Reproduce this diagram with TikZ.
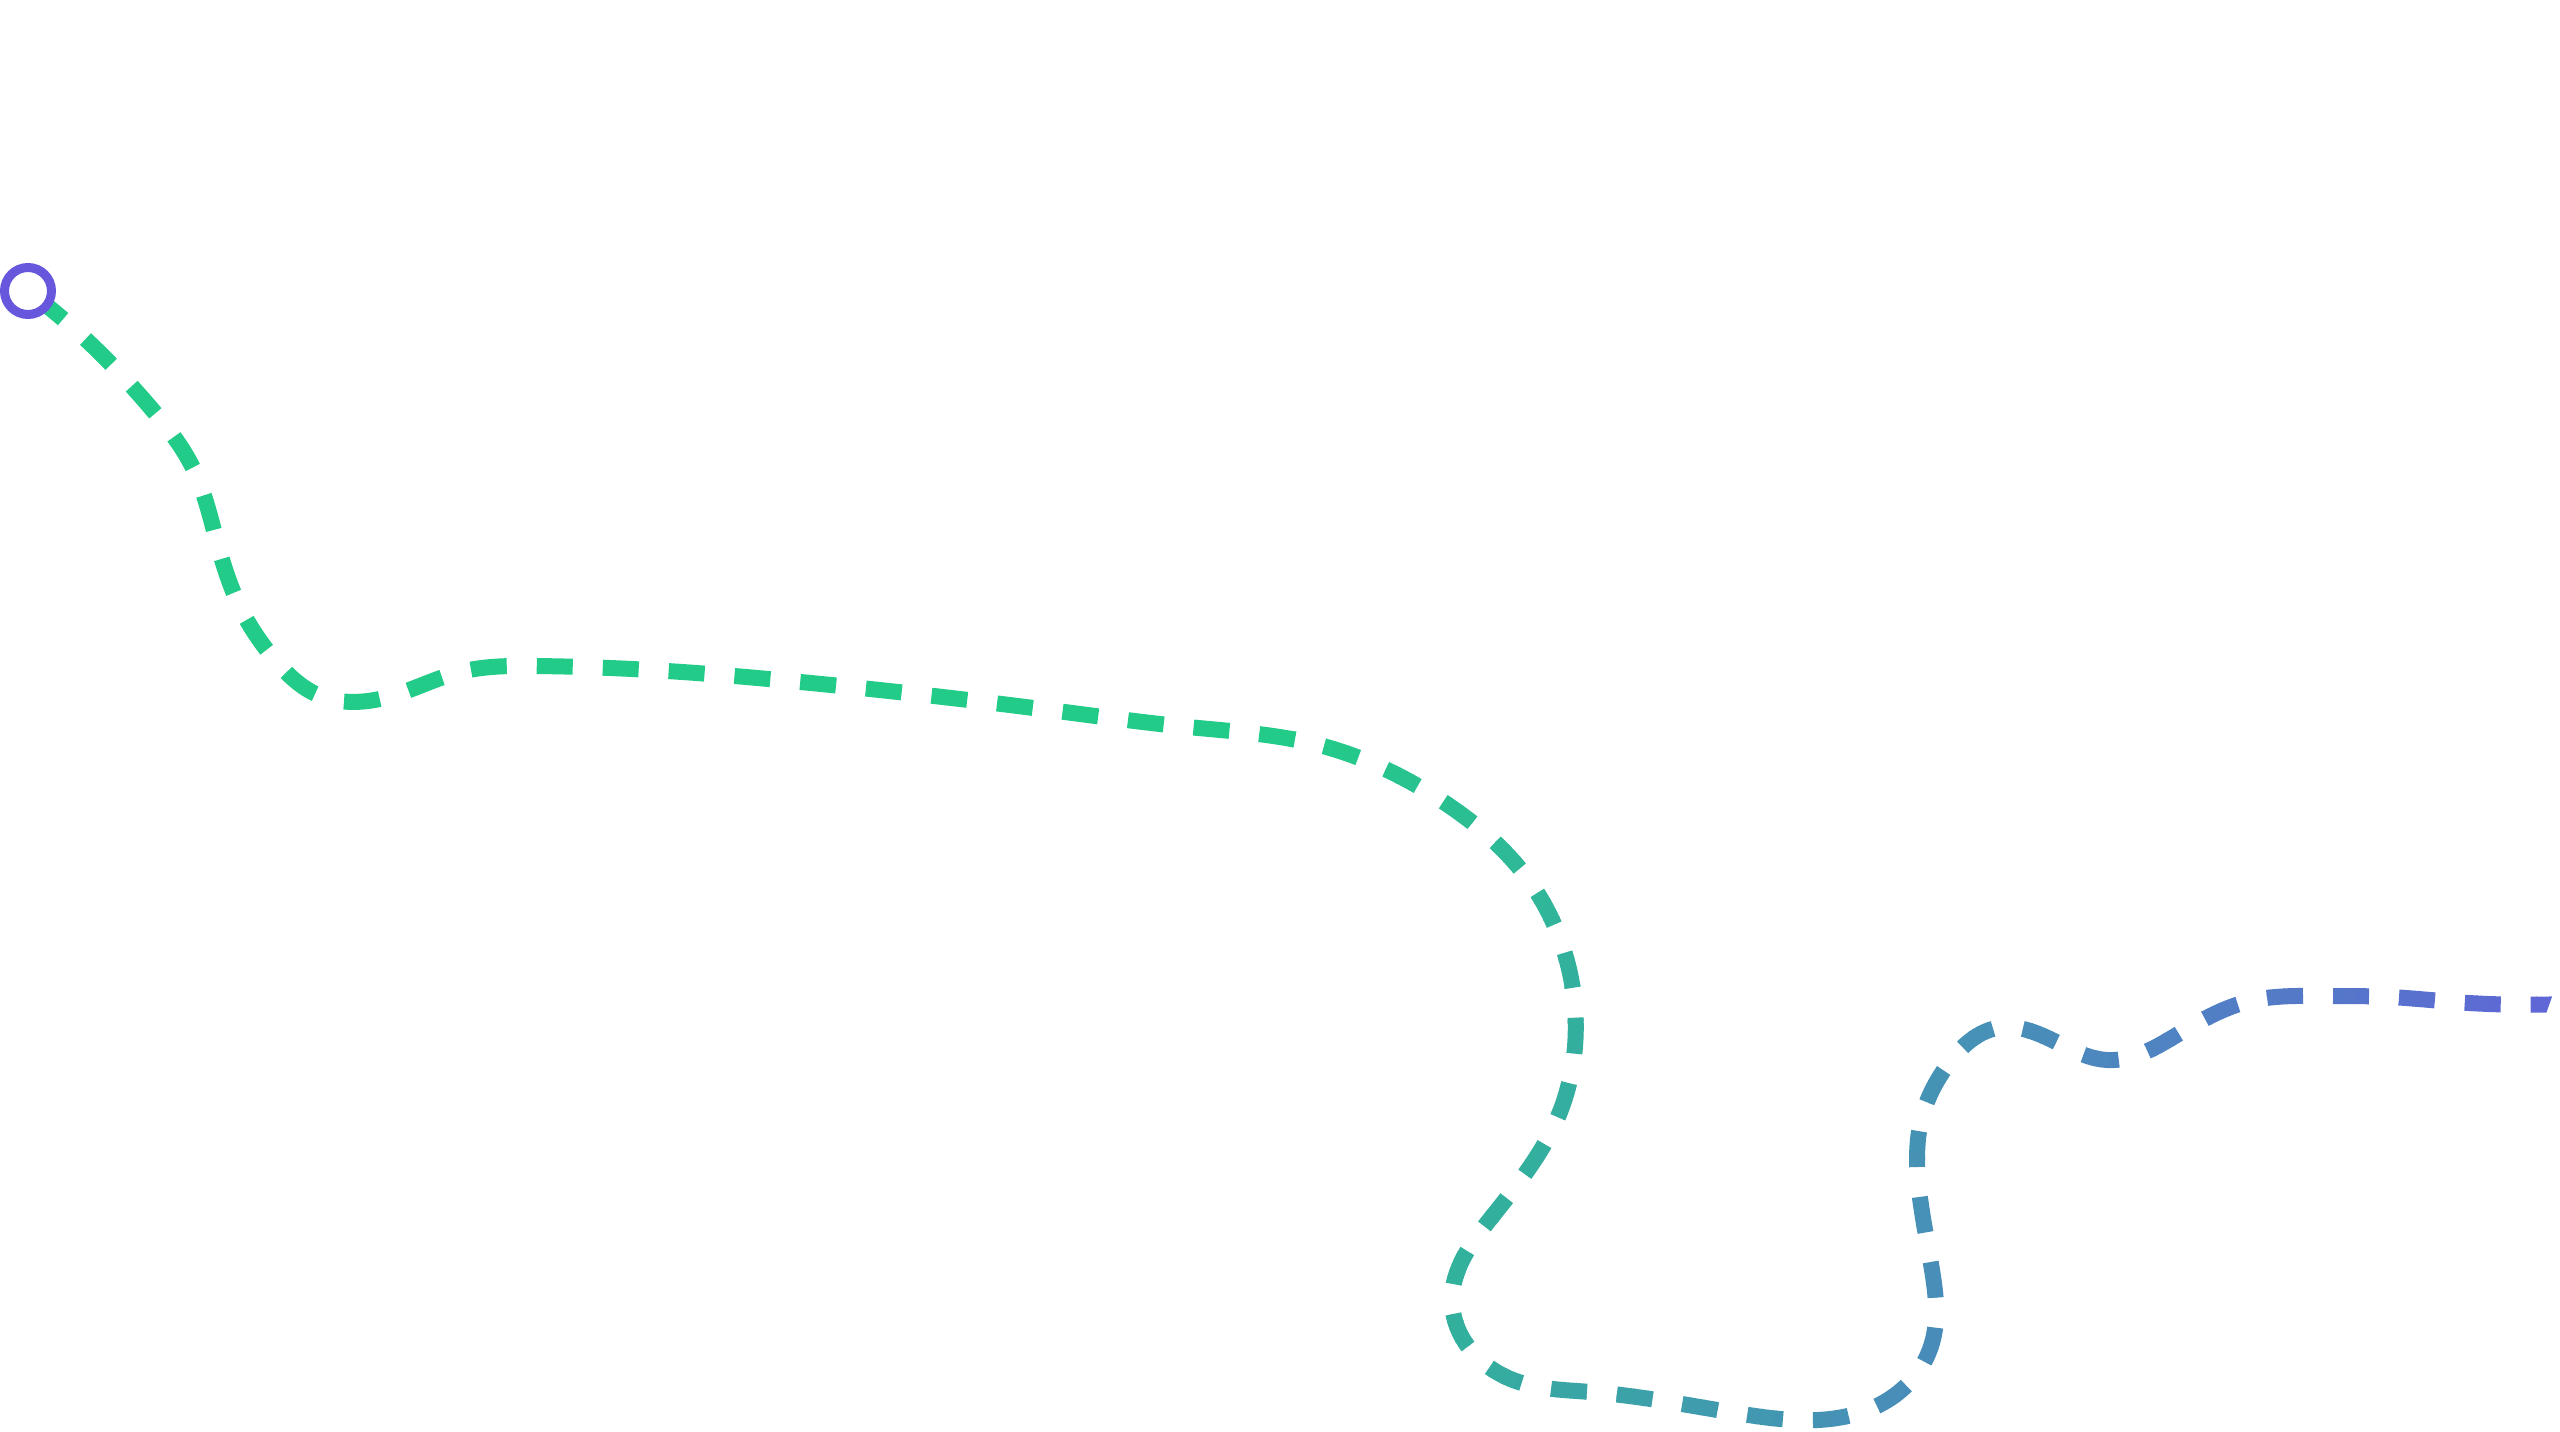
\documentclass[tikz,border=0pt]{standalone}
\usepackage{xcolor}
\usepackage{tikz}
\usetikzlibrary{
  hobby}

\definecolor{trailgreen}{HTML}{22CC88}
\definecolor{trailblue}{HTML}{6066D7}
\definecolor{ringviolet}{HTML}{6657DD}

\newcommand\trailpath{
  (0.28,11.40) .. (1.00,10.78) .. (1.50,10.24) .. (1.93,9.63) .. (2.17,8.89)
  .. (2.43,8.18) .. (2.75,7.71) .. (3.18,7.36) .. (3.88,7.34) .. (4.60,7.59)
  .. (5.35,7.65) .. (6.67,7.60) .. (7.90,7.50) .. (10.57,7.20) .. (11.88,7.04)
  .. (13.19,6.86) .. (14.39,6.32) .. (15.30,5.49) .. (15.73,4.41) .. (15.58,3.14)
  .. (14.91,2.13) .. (14.52,1.31) .. (15.13,0.51) .. (15.91,0.39) .. (17.42,0.17)
  .. (18.18,0.11) .. (18.91,0.33) .. (19.32,0.88) .. (19.32,1.61) .. (19.20,2.33)
  .. (19.22,3.14) .. (19.49,3.68) .. (19.97,4.03) .. (20.52,3.91) .. (21.07,3.71)
  .. (21.80,3.98) .. (22.50,4.30) .. (23.23,4.35) .. (23.90,4.34) .. (24.54,4.29)
  .. (26.00,4.29)
}

\begin{document}
\begin{tikzpicture}[
  use Hobby shortcut,
  trail/.style={line width=0.16cm,dash pattern=on 0.36cm off 0.30cm,dash phase=0.57cm},
  startring/.style={circle,draw=ringviolet,fill=white,line width=0.09cm,
    minimum size=0.47cm,inner sep=0pt}
]
\useasboundingbox (0,0) rectangle (25.6,14.31);

% green part, before the colour change
\begin{scope}
  \clip (-20.35,-1) -- (10.50,-1) -- (16.21,15.31) -- (-14.64,15.31) -- cycle;
  \draw[trail,draw=trailgreen] \trailpath;
\end{scope}

% strips of the gradient
\foreach \i in {0,...,89}{
  \pgfmathsetmacro\ca{10.49+0.15*\i}
  \pgfmathsetmacro\cb{\ca+0.16}
  \pgfmathtruncatemacro\tpct{(\i+0.5)/90*100}
  \begin{scope}
    \clip (\ca-0.35,-1) -- (\cb-0.35,-1) -- (\cb+5.36,15.31) -- (\ca+5.36,15.31) -- cycle;
    \draw[trail,draw=trailblue!\tpct!trailgreen] \trailpath;
  \end{scope}
}

% blue part, after it
\begin{scope}
  \clip (23.99,-1) -- (40,-1) -- (45.71,15.31) -- (29.34,15.31) -- cycle;
  \draw[trail,draw=trailblue] \trailpath;
\end{scope}

\node[startring] (start) at (0.28,11.40) {};
\end{tikzpicture}
\end{document}
